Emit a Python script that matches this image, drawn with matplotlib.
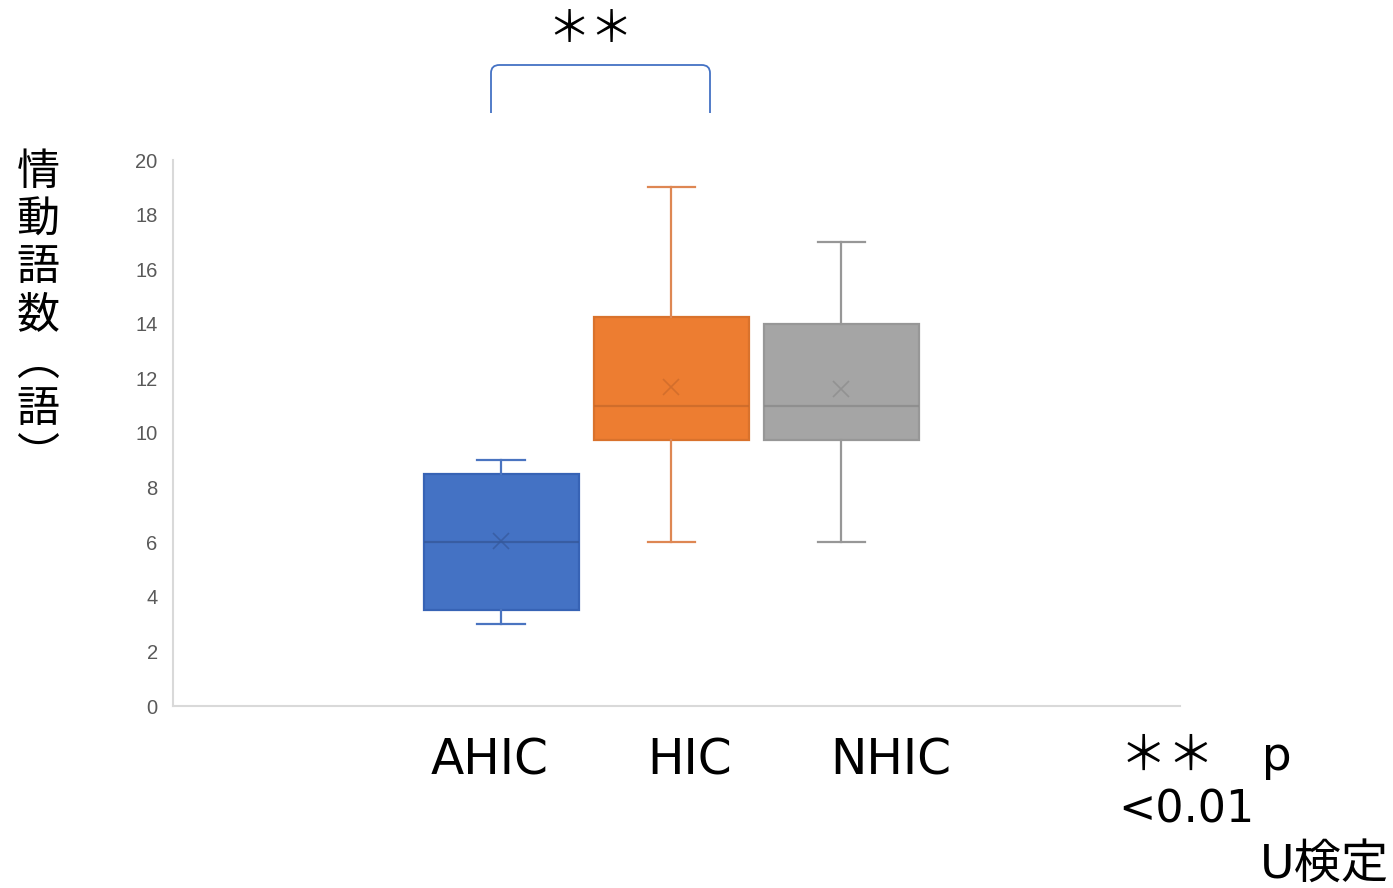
import numpy as np
import matplotlib.pyplot as plt
from matplotlib.path import Path
from matplotlib.patches import PathPatch

plt.rcParams['font.family'] = ['DejaVu Sans', 'Noto Sans CJK JP']

###Donnees###
categories = ['AHIC', 'HIC', 'NHIC']
whislo = [3, 6, 6]
q1 = [3.5, 9.75, 9.75]
med = [6, 11, 11]
q3 = [8.5, 14.25, 14]
whishi = [9, 19, 17]
means = [6.05, 11.7, 11.6]
yticks = [0, 2, 4, 6, 8, 10, 12, 14, 16, 18, 20]
#############

fills = ['#4472C4', '#ED7D31', '#A5A5A5']
edges = ['#3763B5', '#D9722C', '#979797']
lines = ['#4A74C0', '#DE8753', '#979797']
meanc = ['#35589A', '#C9692A', '#8A8A8A']

fig = plt.figure(figsize=(13.93, 8.88), dpi=100)
ax = fig.add_axes([173/1393, 1-706/888, (1180-173)/1393, (706-160)/888])

stats = []
for i, c in enumerate(categories):
    stats.append(dict(label=c, whislo=whislo[i], q1=q1[i], med=med[i],
                      q3=q3[i], whishi=whishi[i], mean=means[i], fliers=[]))

pos = [1, 2, 3]
for i in range(3):
    ax.bxp([stats[i]], positions=[pos[i]], widths=0.91, capwidths=0.28,
           patch_artist=True, showmeans=True,
           boxprops=dict(facecolor=fills[i], edgecolor=edges[i], linewidth=1.6),
           medianprops=dict(color=meanc[i], linewidth=1.6, alpha=0.8),
           whiskerprops=dict(color=lines[i], linewidth=1.6),
           capprops=dict(color=lines[i], linewidth=1.6),
           meanprops=dict(marker='x', markeredgecolor=meanc[i], markersize=12,
                          markeredgewidth=1.2, alpha=0.7))

ax.set_xlim(-0.93, 4.99)
ax.set_ylim(0, 20)
ax.set_yticks(yticks)
ax.set_xticks([])
ax.tick_params(axis='y', length=0, pad=11, labelsize=14.5, labelcolor='#595959')
for t in ax.get_yticklabels():
    t.set_family('Liberation Sans')
for s in ['top', 'right']:
    ax.spines[s].set_visible(False)
for s in ['left', 'bottom']:
    ax.spines[s].set_color('#D9D9D9')
    ax.spines[s].set_linewidth(1.5)

###Etiquettes###
label_x = [490, 690, 891]
for i, c in enumerate(categories):
    fig.text(label_x[i]/1393, 1-760/888, c, ha='center', va='center', fontsize=35)

fig.text(38/1393, 1-315/888, '情\n動\n語\n数\n︵\n語\n︶', ha='center', va='center',
         fontsize=31, linespacing=1.1, family='Noto Sans CJK JP')

fig.text(1120/1393, 1-757/888, '＊＊　p', ha='left', va='center', fontsize=34)
fig.text(1118/1393, 1-810/888, '<0.01', ha='left', va='center', fontsize=32)
fig.text(1260/1393, 1-865/888, 'U検定', ha='left', va='center', fontsize=34)

fig.text(590/1393, 1-30/888, '＊＊', ha='center', va='center', fontsize=31)

# crochet de significativite
x0, x1 = 491/1393, 710/1393
yb, yt = 1-113/888, 1-65/888
r = 0.006
verts = [(x0, yb), (x0, yt - r*1.5), (x0, yt), (x0 + r, yt),
         (x1 - r, yt), (x1, yt), (x1, yt - r*1.5), (x1, yb)]
codes = [Path.MOVETO, Path.LINETO, Path.CURVE3, Path.CURVE3,
         Path.LINETO, Path.CURVE3, Path.CURVE3, Path.LINETO]
fig.patches.append(PathPatch(Path(verts, codes), transform=fig.transFigure,
                             fill=False, edgecolor='#4472C4', linewidth=1.3))

plt.savefig('out.png', dpi=100)
